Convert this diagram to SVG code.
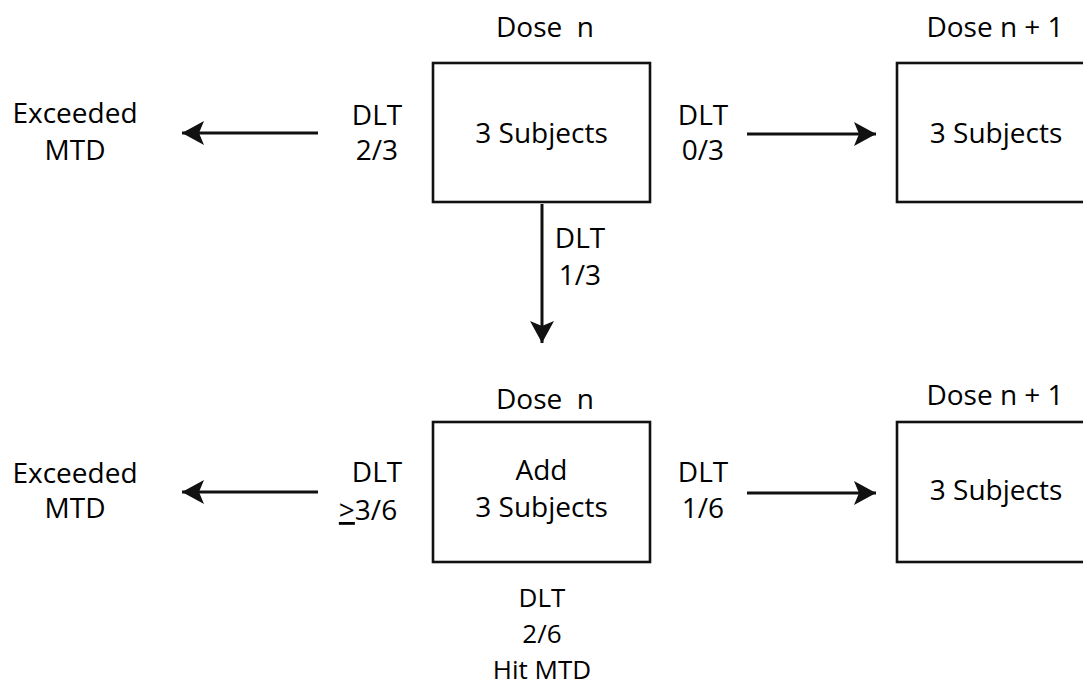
<svg xmlns="http://www.w3.org/2000/svg" width="1083" height="688" viewBox="0 0 1083 688">
<style>
text{font-family:"Open Sans","Liberation Sans",sans-serif;font-size:28px;fill:#000;text-anchor:middle;white-space:pre}
.sm{font-size:26px}
.box{fill:#fff;stroke:#111;stroke-width:2.6}
.arr{stroke:#111;stroke-width:3;fill:none;marker-end:url(#ah)}
</style>
<defs>
<marker id="ah" markerWidth="24" markerHeight="26" refX="22" refY="12" orient="auto" markerUnits="userSpaceOnUse">
<path d="M0,0 L22,12 L0,24 L5,12 Z" fill="#111"/>
</marker>
</defs>
<rect width="1083" height="688" fill="#fff"/>
<g id="connectors">
<line class="arr" x1="318" y1="133" x2="182" y2="133"/>
<line class="arr" x1="747" y1="134" x2="876" y2="134"/>
<line class="arr" x1="542" y1="204" x2="542" y2="343"/>
<line class="arr" x1="318" y1="492" x2="182" y2="492"/>
<line class="arr" x1="747" y1="493" x2="876" y2="493"/>
</g>
<g id="top-dose-n">
<text x="545" y="37">Dose  n</text>
<rect class="box" x="433" y="63" width="217" height="139"/>
<text x="541.5" y="143">3 Subjects</text>
</g>
<g id="top-dose-n1">
<text x="995" y="37">Dose n + 1</text>
<rect class="box" x="897" y="63" width="200" height="139"/>
<text x="996" y="143">3 Subjects</text>
</g>
<g id="top-exceeded">
<text x="75" y="123">Exceeded</text>
<text x="75" y="160">MTD</text>
</g>
<g id="label-dlt-23">
<text x="377" y="125">DLT</text>
<text x="377" y="160">2/3</text>
</g>
<g id="label-dlt-03">
<text x="703" y="125">DLT</text>
<text x="703" y="160">0/3</text>
</g>
<g id="label-dlt-13">
<text x="580" y="248">DLT</text>
<text x="580" y="285">1/3</text>
</g>
<g id="bottom-dose-n">
<text x="545" y="409">Dose  n</text>
<rect class="box" x="433" y="422" width="217" height="140"/>
<text x="541.5" y="480">Add</text>
<text x="541.5" y="517">3 Subjects</text>
</g>
<g id="bottom-dose-n1">
<text x="995" y="405">Dose n + 1</text>
<rect class="box" x="897" y="422" width="200" height="140"/>
<text x="996" y="500">3 Subjects</text>
</g>
<g id="bottom-exceeded">
<text x="75" y="483">Exceeded</text>
<text x="75" y="518">MTD</text>
</g>
<g id="label-dlt-36">
<text x="377" y="482">DLT</text>
<text x="368" y="520"><tspan text-decoration="underline">&gt;</tspan>3/6</text>
</g>
<g id="label-dlt-16">
<text x="703" y="482">DLT</text>
<text x="703" y="518">1/6</text>
</g>
<g id="label-dlt-26">
<text class="sm" x="542" y="607">DLT</text>
<text class="sm" x="542" y="643">2/6</text>
<text class="sm" x="542" y="679">Hit MTD</text>
</g>
</svg>
